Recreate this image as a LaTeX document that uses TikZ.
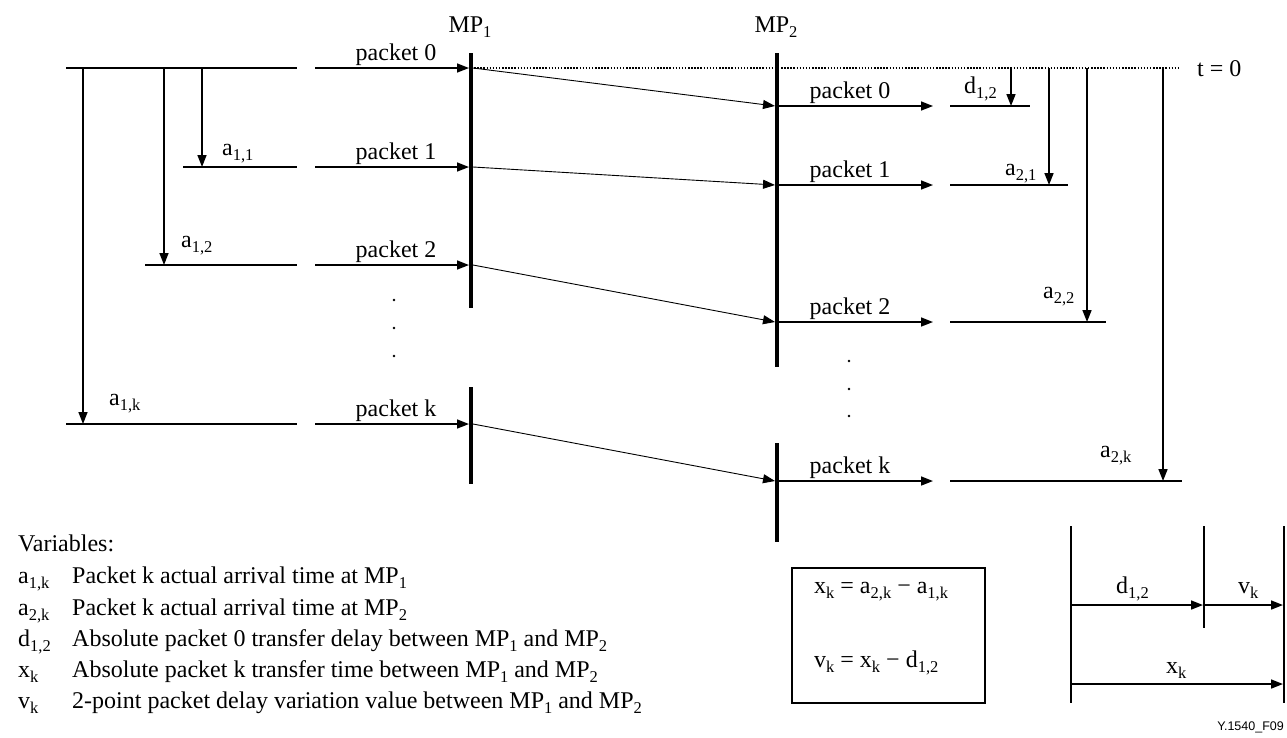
\documentclass[tikz,border=0pt]{standalone}
\usepackage{fontspec}
\setmainfont{Liberation Serif}
\newfontfamily\tagfont{Liberation Sans}
\usetikzlibrary{arrows.meta}
% lowered subscript, set as plain text
\newcommand\lo[1]{\raisebox{-5.5pt}{\fontsize{16.5}{16.5}\selectfont #1}}

\tikzset{
  txt/.style={font=\fontsize{24}{28}\selectfont, inner sep=0pt},
  ln/.style={line width=1.6pt},
  arr/.style={ln, -{Triangle[length=12pt,width=9pt]}},
  diag/.style={line width=0.9pt, -{Triangle[length=12pt,width=9pt]}},
  mpbar/.style={line width=4.5pt},
  tline/.style={line width=1.5pt, dash pattern=on 1.5pt off 1.6pt},
}

\begin{document}
\begin{tikzpicture}[x=1pt,y=-1pt]
\useasboundingbox (0,0) rectangle (1287,737);

% measurement point bars
\coordinate (mp1a) at (471,53);  \coordinate (mp1b) at (471,308);
\coordinate (mp1c) at (471,387); \coordinate (mp1d) at (471,484);
\coordinate (mp2a) at (777,53);  \coordinate (mp2b) at (777,367);
\coordinate (mp2c) at (777,443); \coordinate (mp2d) at (777,542);
\draw[mpbar] (mp1a) -- (mp1b);
\draw[mpbar] (mp1c) -- (mp1d);
\draw[mpbar] (mp2a) -- (mp2b);
\draw[mpbar] (mp2c) -- (mp2d);
\node[txt, anchor=base] (MP1) at (470,32) {MP\lo{1}};
\node[txt, anchor=base] (MP2) at (776,32) {MP\lo{2}};

% t = 0 reference line
\coordinate (t0a) at (471,68);
\coordinate (t0b) at (1180,68);
\draw[tline] (t0a) -- (t0b);
\node[txt, anchor=base west] (tzero) at (1197,76) {t = 0};

% packets: source line, arrival at MP1, transfer, arrival at MP2
\foreach \n/\ya/\yb/\xs/\xe in {0/68/106/66/1030, 1/167/185/183/1068,
                                 2/265/322/145/1106, k/424/481/66/1182}{
  \coordinate (s\n) at (\xs,\ya);  \coordinate (g\n) at (297,\ya);
  \coordinate (h\n) at (315,\ya);  \coordinate (p\n) at (469,\ya);
  \coordinate (q\n) at (473,\ya);  \coordinate (r\n) at (775,\yb);
  \coordinate (u\n) at (779,\yb);  \coordinate (w\n) at (933,\yb);
  \coordinate (m\n) at (950,\yb);  \coordinate (e\n) at (\xe,\yb);
  \draw[ln]   (s\n) -- (g\n);
  \draw[arr]  (h\n) -- (p\n);
  \draw[diag] (q\n) -- (r\n);
  \draw[arr]  (u\n) -- (w\n);
  \draw[ln]   (m\n) -- (e\n);
  \node[txt, anchor=base] (pa\n) at (396,\ya-8) {packet \n};
  \node[txt, anchor=base] (pb\n) at (850,\yb-8) {packet \n};
}

% arrival times at MP1
\coordinate (v1) at (202,68); \coordinate (v1e) at (202,167);
\coordinate (v2) at (164,68); \coordinate (v2e) at (164,265);
\coordinate (vk) at (83,68);  \coordinate (vke) at (83,424);
\draw[arr] (v1) -- (v1e);
\draw[arr] (v2) -- (v2e);
\draw[arr] (vk) -- (vke);
\node[txt, anchor=base west] (a11) at (222,155) {a\lo{1,1}};
\node[txt, anchor=base west] (a12) at (181,247) {a\lo{1,2}};
\node[txt, anchor=base west] (a1k) at (109,405) {a\lo{1,k}};

% arrival times at MP2
\coordinate (w0) at (1011,68); \coordinate (w0e) at (1011,106);
\coordinate (w1) at (1049,68); \coordinate (w1e) at (1049,185);
\coordinate (w2) at (1087,68); \coordinate (w2e) at (1087,322);
\coordinate (wk) at (1163,68); \coordinate (wke) at (1163,481);
\draw[arr] (w0) -- (w0e);
\draw[arr] (w1) -- (w1e);
\draw[arr] (w2) -- (w2e);
\draw[arr] (wk) -- (wke);
\node[txt, anchor=base west] (d12) at (964,93)  {d\lo{1,2}};
\node[txt, anchor=base west] (a21) at (1005,175) {a\lo{2,1}};
\node[txt, anchor=base west] (a22) at (1043,298) {a\lo{2,2}};
\node[txt, anchor=base west] (a2k) at (1100,457) {a\lo{2,k}};

% vertical ellipses
\foreach \y in {300,328,356} \fill (394,\y) circle (1.4);
\foreach \y in {361,389,416} \fill (849,\y) circle (1.4);

% legend
\node[txt, anchor=base west] (vars) at (18,551) {Variables:};
\foreach \s/\d/\y in {
  a\lo{1,k}/Packet k actual arrival time at MP\lo{1}/583,
  a\lo{2,k}/Packet k actual arrival time at MP\lo{2}/615,
  d\lo{1,2}/Absolute packet 0 transfer delay between MP\lo{1} and MP\lo{2}/646,
  x\lo{k}/Absolute packet k transfer time between MP\lo{1} and MP\lo{2}/677,
  v\lo{k}/2-point packet delay variation value between MP\lo{1} and MP\lo{2}/708}{
  \node[txt, anchor=base west] (sym\y) at (18,\y) {\s};
  \node[txt, anchor=base west] (def\y) at (72,\y) {\d};
}

% formulas
\node[draw, line width=1.1pt, minimum width=193pt, minimum height=135pt,
      inner sep=0pt] (eqbox) at (888.5,635.5) {};
\node[txt, anchor=base west] (eqx) at (814,593) {x\lo{k} = a\lo{2,k} − a\lo{1,k}};
\node[txt, anchor=base west] (eqv) at (814,667) {v\lo{k} = x\lo{k} − d\lo{1,2}};

% delay decomposition
\coordinate (b1a) at (1071,526); \coordinate (b1b) at (1071,703);
\coordinate (b2a) at (1204,526); \coordinate (b2b) at (1204,628);
\coordinate (b3a) at (1284,526); \coordinate (b3b) at (1284,703);
\draw[ln] (b1a) -- (b1b);
\draw[ln] (b2a) -- (b2b);
\draw[ln] (b3a) -- (b3b);
\coordinate (c1) at (1071,605); \coordinate (c2) at (1203,605);
\coordinate (c3) at (1205,605); \coordinate (c4) at (1283,605);
\coordinate (c5) at (1071,684); \coordinate (c6) at (1283,684);
\draw[arr] (c1) -- (c2);
\draw[arr] (c3) -- (c4);
\draw[arr] (c5) -- (c6);
\node[txt, anchor=base west] (dd) at (1116,593) {d\lo{1,2}};
\node[txt, anchor=base west] (dv) at (1238,593) {v\lo{k}};
\node[txt, anchor=base west] (dx) at (1166,673) {x\lo{k}};

\node[font=\tagfont\fontsize{12.5}{12.5}\selectfont, inner sep=0pt, anchor=base east]
  (fig) at (1284,730) {Y.1540\_F09};
\end{tikzpicture}
\end{document}
